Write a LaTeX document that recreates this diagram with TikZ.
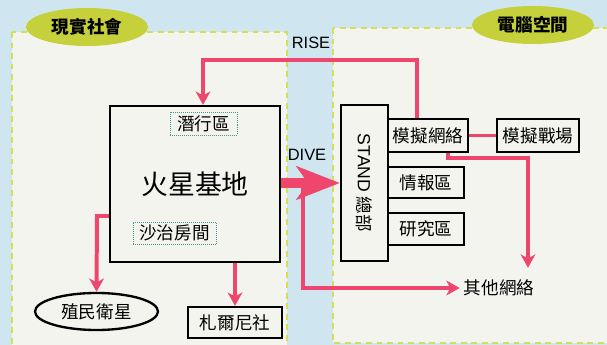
\documentclass[tikz,border=0pt]{standalone}
\usepackage{fontspec}
\setmainfont{Liberation Sans}
\newfontfamily\cjk{Noto Sans CJK TC}
\usetikzlibrary{positioning,calc,shapes.geometric,arrows.meta}
\definecolor{skyblue}{RGB}{207,230,240}
\definecolor{paper}{RGB}{244,244,239}
\definecolor{limeline}{RGB}{214,222,84}
\definecolor{olive}{RGB}{198,208,58}
\definecolor{pinkred}{RGB}{238,70,108}
\definecolor{tealdot}{RGB}{70,150,150}

\begin{document}
\begin{tikzpicture}[x=0.03cm, y=-0.03cm, line join=miter]
	% ---- khung nen ----
	\useasboundingbox (0,0) rectangle (607,345);
	\clip (0,0) rectangle (607,345);
	\fill[skyblue] (0,0) rectangle (607,345);
	
	\tikzset{panel/.style={fill=paper, draw=limeline, line width=1.3pt, dash pattern=on 5pt off 4pt},
		tag/.style={ellipse, fill=olive, minimum width=3.66cm, minimum height=1.14cm, inner sep=0pt,
			font=\cjk\bfseries\fontsize{15}{18}\selectfont},
		box/.style={draw, line width=2pt, inner sep=0pt, font=\cjk\fontsize{15}{18}\selectfont},
		zone/.style={draw=tealdot, densely dotted, line width=0.7pt, inner sep=0pt,
			font=\cjk\fontsize{15}{18}\selectfont},
		link/.style={draw=pinkred, line width=3.4pt},
		arrowlink/.style={link, -{Stealth[length=4mm, width=4.4mm, inset=1.2mm]}}}
	
	\path[panel] (12,32) rectangle (287,360);
	\path[panel] (333,28) rectangle (620,343);
	\node[tag] (real) at (87,27) {現實社會};
	\node[tag] (cyber) at (533,25) {電腦空間};
	
	% ---- cac nut ben trai ----
	\node[box, minimum width=5.1cm, minimum height=4.68cm,
	font=\cjk\fontsize{23}{27}\selectfont] (mars) at (195,184) {火星基地};
	\node[zone, minimum width=2.01cm, minimum height=0.69cm] (stealth) at (203.5,123.5) {潛行區};
	\node[zone, minimum width=2.49cm, minimum height=0.66cm] (room) at (174.5,233) {沙治房間};
	\node[draw, ellipse, line width=2pt, minimum width=3.69cm, minimum height=1.11cm, inner sep=0pt,
	font=\cjk\fontsize{15}{18}\selectfont] (colony) at (96.5,311.5) {殖民衛星};
	\node[box, minimum width=2.82cm, minimum height=0.93cm] (zarni) at (235,322.5) {札爾尼社};
	
	% ---- cac nut ben phai ----
	% (hop STAND xoay -90: width la chieu doc)
	\node[box, minimum width=4.68cm, minimum height=1.41cm, rotate=-90,
	font=\fontsize{15}{18}\selectfont] (stand) at (364.5,183) {STAND {\cjk 總部}};
	\node[box, minimum width=2.4cm, minimum height=0.99cm] (sim) at (428,135.5) {模擬網絡};
	\node[box, minimum width=2.46cm, minimum height=0.99cm] (battle) at (538,135.5) {模擬戰場};
	\node[box, minimum width=2.28cm, minimum height=0.93cm] (intel) at (426,182.5) {情報區};
	\node[box, minimum width=2.28cm, minimum height=0.96cm] (lab) at (426,229) {研究區};
	\node[font=\cjk\fontsize{15}{18}\selectfont] (other) at (499,288) {其他網絡};
	
	\node[font=\fontsize{14}{17}\selectfont] (riseLabel) at (311,43) {RISE};
	\node[font=\fontsize{14}{17}\selectfont] (diveLabel) at (307,155) {DIVE};
	
	% ---- duong noi ----
	\coordinate (riseCorner) at (203,60);
	\coordinate (colonyCorner) at (97,216);
	\coordinate (diveSplit) at (303,184);
	\coordinate (netCorner) at (528,158);
	
	\draw[arrowlink] ($(sim.north)+(-11,0)$) |- (riseCorner) -- (mars.north -| riseCorner);
	\draw[arrowlink] (mars.west |- colonyCorner) -- (colonyCorner) -- (colony.north);
	\draw[arrowlink] (mars.south -| zarni.north) -- (zarni.north);
	\draw[arrowlink] (diveSplit) |- (other.west);
	\draw[arrowlink] ($(sim.south)+(20,0)$) |- (netCorner) -- ($(other.north -| netCorner)+(0,-8)$);
	\draw[link] (sim.east) -- (battle.west);
	
	\draw[draw=pinkred, line width=0.3cm,
	-{Stealth[length=1.3cm, width=1cm, inset=0.35cm]}]
	(mars.east |- stand.south) -- (stand.south);
\end{tikzpicture}
\end{document}
